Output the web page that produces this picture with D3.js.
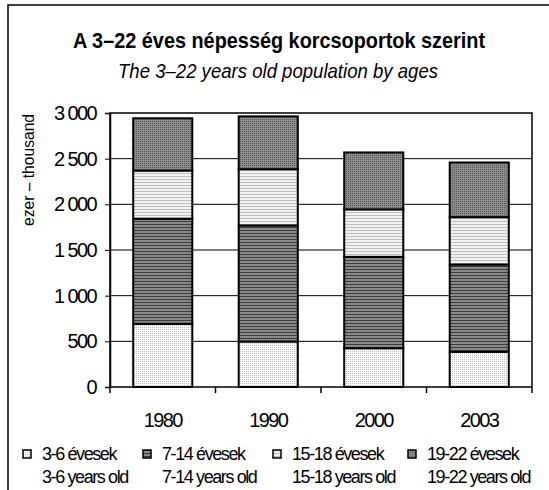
<!DOCTYPE html>
<html>
<head>
<meta charset="utf-8">
<script src="https://cdn.jsdelivr.net/npm/d3@7"></script>
<style>
  body { margin: 0; background: #fff; }
  text { font-family: "Liberation Sans", Arial, sans-serif; fill: #000; }
</style>
</head>
<body>
<div class="graph"></div>
<script>
/*---------- DATA ----------*/
const years = ["1980", "1990", "2000", "2003"];
const groupsHu = ["3-6 évesek", "7-14 évesek", "15-18 évesek", "19-22 évesek"];
const groupsEn = ["3-6 years old", "7-14 years old", "15-18 years old", "19-22 years old"];
const age3to6 = [692, 498, 425, 385];
const age7to14 = [1151, 1271, 1000, 956];
const age15to18 = [527, 616, 520, 519];
const age19to22 = [572, 578, 623, 598];
const yTicks = [0, 500, 1000, 1500, 2000, 2500, 3000];
const yTickLabels = ["0", "500", "1 000", "1 500", "2 000", "2 500", "3 000"];

/*---------- D3 STUFF ----------*/
const SIZE = {X: 549, Y: 490};
const MARGIN = {TOP: 113, LEFT: 110};
const DIM = {WIDTH: 422, HEIGHT: 274};

const svg = d3.select(".graph").append("svg")
    .attr("width", SIZE.X)
    .attr("height", SIZE.Y);

//outer frame (runs off the right/bottom edge like the original)
svg.append("rect")
    .attr("x", 8).attr("y", 5)
    .attr("width", 560).attr("height", 520)
    .attr("fill", "none")
    .attr("stroke", "#000")
    .attr("stroke-width", 1.5);

//fill patterns
const defs = svg.append("defs");
function pattern(id, w, h, bg, draw) {
    const p = defs.append("pattern")
        .attr("id", id)
        .attr("patternUnits", "userSpaceOnUse")
        .attr("width", w).attr("height", h);
    p.append("rect").attr("width", w).attr("height", h).attr("fill", bg);
    draw(p);
}
pattern("p0", 2, 2, "#ffffff", p => {
    p.append("rect").attr("x", 0).attr("y", 0).attr("width", 1).attr("height", 1).attr("fill", "#bcbcbc");
});
pattern("p1", 1, 3, "#8a8a8a", p => {
    p.append("rect").attr("y", 0).attr("width", 1).attr("height", 1).attr("fill", "#3c3c3c");
});
pattern("p2", 1, 3, "#f2f2f2", p => {
    p.append("rect").attr("y", 0).attr("width", 1).attr("height", 1).attr("fill", "#bdbdbd");
});
pattern("p3", 2, 2, "#8c8c8c", p => {
    p.append("rect").attr("x", 0).attr("y", 0).attr("width", 1).attr("height", 1).attr("fill", "#5a5a5a");
});
const fills = ["url(#p0)", "url(#p1)", "url(#p2)", "url(#p3)"];

//titles
svg.append("text")
    .attr("x", 279).attr("y", 48)
    .attr("text-anchor", "middle")
    .attr("font-size", 22).attr("font-weight", "bold")
    .attr("textLength", 412).attr("lengthAdjust", "spacingAndGlyphs")
    .text("A 3–22 éves népesség korcsoportok szerint");

svg.append("text")
    .attr("x", 278).attr("y", 78)
    .attr("text-anchor", "middle")
    .attr("font-size", 21).attr("font-style", "italic")
    .attr("textLength", 320).attr("lengthAdjust", "spacingAndGlyphs")
    .text("The 3–22 years old population by ages");

//y axis label
svg.append("text")
    .attr("transform", "translate(34,170) rotate(-90)")
    .attr("text-anchor", "middle")
    .attr("font-size", 17)
    .attr("textLength", 112).attr("lengthAdjust", "spacingAndGlyphs")
    .text("ezer – thousand");

const graph = svg.append("g")
    .attr("transform", `translate(${MARGIN.LEFT}, ${MARGIN.TOP})`);

//scales
const x = d3.scaleBand()
    .domain(years)
    .range([0, DIM.WIDTH])
    .paddingInner(0.44)
    .paddingOuter(0.22);

const y = d3.scaleLinear()
    .domain([0, 3000])
    .range([DIM.HEIGHT, 0]);

//grid lines
graph.append("g")
    .selectAll("line")
    .data(yTicks.slice(1, -1))
    .join("line")
    .attr("x1", 0).attr("x2", DIM.WIDTH)
    .attr("y1", d => y(d)).attr("y2", d => y(d))
    .attr("stroke", "#000").attr("stroke-width", 1);

//plot border
graph.append("rect")
    .attr("width", DIM.WIDTH).attr("height", DIM.HEIGHT)
    .attr("fill", "none")
    .attr("stroke", "#000").attr("stroke-width", 1.5);

//stacked bars
const table = years.map((yr, i) => ({year: yr, a: age3to6[i], b: age7to14[i], c: age15to18[i], d: age19to22[i]}));
const series = d3.stack().keys(["a", "b", "c", "d"])(table);

graph.append("g")
    .selectAll("g")
    .data(series)
    .join("g")
    .attr("fill", (d, i) => fills[i])
    .selectAll("rect")
    .data(d => d)
    .join("rect")
    .attr("x", d => x(d.data.year))
    .attr("y", d => y(d[1]))
    .attr("width", x.bandwidth())
    .attr("height", d => y(d[0]) - y(d[1]))
    .attr("stroke", "#000")
    .attr("stroke-width", 2);

//y axis
const yAxis = graph.append("g")
    .call(d3.axisLeft(y)
        .tickValues(yTicks)
        .tickSize(5)
        .tickPadding(9)
        .tickFormat((d, i) => yTickLabels[i]));
yAxis.select(".domain").attr("stroke-width", 1.5);
yAxis.selectAll("text")
    .attr("font-family", "Liberation Sans, Arial, sans-serif")
    .attr("font-size", 20)
    .attr("letter-spacing", -1.6);

//x axis: boundary ticks + labels
const bounds = years.map(yr => x(yr) - x.step() * x.paddingInner() / 2).concat([DIM.WIDTH]);
graph.append("g")
    .selectAll("line")
    .data(bounds)
    .join("line")
    .attr("x1", d => d).attr("x2", d => d)
    .attr("y1", DIM.HEIGHT).attr("y2", DIM.HEIGHT + 6)
    .attr("stroke", "#000").attr("stroke-width", 1.5);

graph.append("g")
    .selectAll("text")
    .data(years)
    .join("text")
    .attr("x", d => x(d) + x.bandwidth() / 2)
    .attr("y", DIM.HEIGHT + 40)
    .attr("text-anchor", "middle")
    .attr("font-size", 20)
    .attr("letter-spacing", -1.6)
    .text(d => d);

//legend
const legX = [23, 143, 273, 408];
const legend = svg.append("g")
    .selectAll("g")
    .data(groupsHu)
    .join("g")
    .attr("transform", (d, i) => `translate(${legX[i]}, 0)`);

legend.append("rect")
    .attr("x", 0).attr("y", 450)
    .attr("width", 8).attr("height", 8)
    .attr("fill", (d, i) => fills[i])
    .attr("stroke", "#000").attr("stroke-width", 1.5);

legend.append("text")
    .attr("x", 19).attr("y", 460)
    .attr("font-size", 18)
    .attr("letter-spacing", -1.4)
    .text(d => d);

legend.append("text")
    .attr("x", 19).attr("y", 483)
    .attr("font-size", 18)
    .attr("letter-spacing", -1.4)
    .text((d, i) => groupsEn[i]);
</script>
</body>
</html>
